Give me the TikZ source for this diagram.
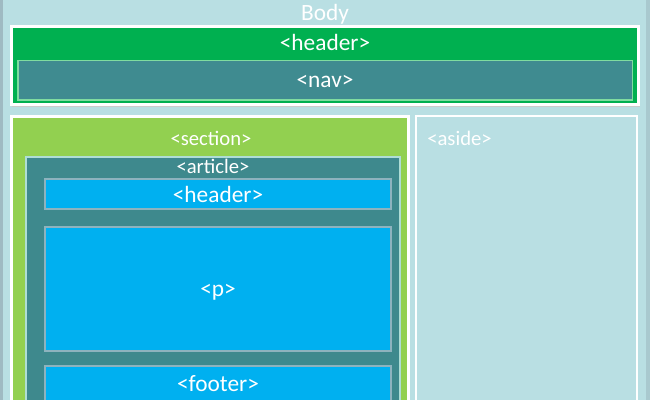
\documentclass[tikz,border=0pt]{standalone}
\usepackage{fontspec}
\setmainfont{Carlito}
\usetikzlibrary{positioning}
\definecolor{bodybg}{HTML}{B9DFE3}
\definecolor{edgegray}{HTML}{9FBAC2}
\definecolor{hdrgreen}{HTML}{00B050}
\definecolor{navteal}{HTML}{3F8B90}
\definecolor{navedge}{HTML}{7FDCA0}
\definecolor{secgreen}{HTML}{92D050}
\definecolor{artteal}{HTML}{3E898D}
\definecolor{artedge}{HTML}{AEDDD6}
\definecolor{blockblue}{HTML}{00B0F0}
\definecolor{blockedge}{HTML}{8DB3BE}

\begin{document}
\begin{tikzpicture}[x=0.75pt,y=-0.75pt,
  tag/.style={text=white, font=\fontsize{17.5}{20}\selectfont, inner sep=0pt},
  smalltag/.style={tag, font=\fontsize{15.5}{18}\selectfont}]
\useasboundingbox (0,0) rectangle (650,400);
\clip (0,0) rectangle (650,400);
% body
\fill[bodybg] (0,0) rectangle (650,400);
\fill[edgegray] (0,0) rectangle (3,400);
\fill[edgegray!60!bodybg] (646,0) rectangle (650,400);
\node[tag] (body) at (325,14) {Body};

% page header with nav
\fill[gray!40] (12,105) rectangle (640,107);
\draw[white, line width=2.25pt, fill=hdrgreen] (11.5,26.5) rectangle (638.5,104.5);
\node[tag] (header) at (325,42) {<header>};
\draw[navedge, line width=0.9pt, fill=navteal] (18,60.5) rectangle (632.5,100);
\node[tag] (nav) at (325,81) {<nav>};

% section and aside
\draw[white, line width=2.25pt, fill=secgreen] (11.5,116.5) rectangle (408.5,420);
\node[smalltag] (section) at (211,138) {<section>};
\draw[white, line width=1.5pt, fill=bodybg] (416,116) rectangle (637,420);
\node[smalltag, anchor=west] (aside) at (427,138) {<aside>};

% article
\draw[artedge, line width=1.5pt, fill=artteal] (26,157) rectangle (400,420);
\node[smalltag] (article) at (213,166) {<article>};
\foreach \name/\top/\bot/\ty/\txt in {ahead/179/209/194/{<header>}, para/227/351/292/{<p>}, foot/366/420/384/{<footer>}} {
    \draw[blockedge, line width=1.5pt, fill=blockblue] (45,\top) rectangle (391,\bot);
    \node[tag] (\name) at (218,\ty) {\txt};
}
\end{tikzpicture}
\end{document}
